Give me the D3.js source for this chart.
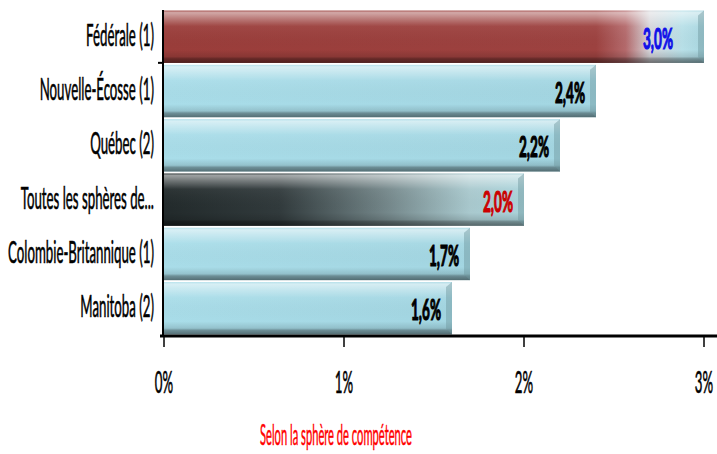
<!DOCTYPE html>
<html>
<head>
<meta charset="utf-8">
<script src="https://cdn.jsdelivr.net/npm/d3@7"></script>
<style>
  body { margin: 0; background: #fff; }
  text { font-family: Lato, "Liberation Sans", sans-serif; }
</style>
</head>
<body>
<div id="chart"></div>
<script>
const categories = ["Fédérale (1)", "Nouvelle-Écosse (1)", "Québec (2)", "Toutes les sphères de...", "Colombie-Britannique (1)", "Manitoba (2)"]
const values = [3.0, 2.4, 2.2, 2.0, 1.7, 1.6]
const valueLabels = ["3,0%", "2,4%", "2,2%", "2,0%", "1,7%", "1,6%"]
const labelColors = ["#1010e8", "#000", "#000", "#cc0000", "#000", "#000"]
const barFills = ["federal", "blue", "blue", "all", "blue", "blue"]
const xTicks = [0, 1, 2, 3]
const xTitle = "Selon la sphère de compétence"

const width = 717
const height = 454

const x = d3.scaleLinear().domain([0, 3]).range([164, 704])
const y = d3.scaleBand().domain(categories).range([10, 335]).paddingInner(0.035).paddingOuter(0.01)

const svg = d3.select("#chart").append("svg")
    .attr("width", width)
    .attr("height", height)

// the chart font is a tall condensed face: squeeze a normal one to the same width
function squeeze(sample, size, weight, target){
    const t = svg.append("text").attr("font-size", size).attr("font-weight", weight).text(sample)
    const w = t.node().getComputedTextLength()
    t.remove()
    return target / w
}
const sxCat = squeeze("Colombie-Britannique (1)", 30, "normal", 146)
const sxVal = squeeze("2,4%", 28, "bold", 30)
const sxTitle = squeeze(xTitle, 28, "normal", 152)

const defs = svg.append("defs")

function hGrad(id, stops){
    const g = defs.append("linearGradient").attr("id", id)
        .attr("x1", 0).attr("x2", 1).attr("y1", 0).attr("y2", 0)
    stops.forEach(s => g.append("stop").attr("offset", s[0]).attr("stop-color", s[1]))
}
hGrad("blue", [[0, "#a9dde9"], [1, "#a3d6e2"]])
hGrad("federal", [[0, "#9a3d3a"], [0.8, "#9d4240"], [0.855, "#b46a6c"], [0.9, "#d6d6da"], [0.96, "#b8e0e8"], [1, "#a8d6e0"]])
hGrad("all", [[0, "#222a2b"], [0.32, "#313a3c"], [0.62, "#74878a"], [0.85, "#a9c9ce"], [1, "#aad3da"]])

// vertical shading overlay: light top edge, dark bottom edge
const shade = defs.append("linearGradient").attr("id", "shade")
    .attr("x1", 0).attr("x2", 0).attr("y1", 0).attr("y2", 1)
;[[0, "#fff", 0.15], [0.04, "#fff", 0.55], [0.14, "#fff", 0.35], [0.3, "#fff", 0.05],
  [0.75, "#000", 0.0], [0.88, "#000", 0.12], [0.92, "#000", 0.35], [1, "#000", 0.5]]
    .forEach(s => shade.append("stop").attr("offset", s[0]).attr("stop-color", s[1]).attr("stop-opacity", s[2]))

const data = categories.map((c, i) => ({cat: c, v: values[i], label: valueLabels[i], color: labelColors[i], fill: barFills[i]}))

const bars = svg.append("g").selectAll("g").data(data).join("g")

bars.append("rect")
    .attr("x", x(0))
    .attr("y", d => y(d.cat))
    .attr("width", d => x(d.v) - x(0))
    .attr("height", y.bandwidth())
    .attr("fill", d => `url(#${d.fill})`)

bars.append("rect")
    .attr("x", x(0))
    .attr("y", d => y(d.cat))
    .attr("width", d => x(d.v) - x(0))
    .attr("height", y.bandwidth())
    .attr("fill", "url(#shade)")

// bevelled right end
bars.append("path")
    .attr("d", d => {
        const x1 = x(d.v), y0 = y(d.cat), h = y.bandwidth()
        return `M${x1-6},${y0+5} L${x1},${y0} L${x1},${y0+h} L${x1-6},${y0+h-6} Z`
    })
    .attr("fill", "#6f969e")
    .attr("opacity", 0.45)

// value labels
bars.append("text")
    .attr("transform", (d, i) => `translate(${x(d.v) - (i == 0 ? 31 : 11)}, ${y(d.cat) + y.bandwidth()/2 + 12}) scale(${sxVal},1)`)
    .attr("text-anchor", "end")
    .attr("font-size", 28)
    .attr("font-weight", "bold")
    .attr("fill", d => d.color)
    .attr("stroke", d => d.color).attr("stroke-width", 1.2)
    .text(d => d.label)

// category labels
svg.append("g").selectAll("text").data(categories).join("text")
    .attr("transform", d => `translate(154, ${y(d) + y.bandwidth()/2 + 9}) scale(${sxCat},1)`)
    .attr("text-anchor", "end")
    .attr("font-size", 30)
    .attr("fill", "#000")
    .attr("stroke", "#000").attr("stroke-width", 0.6)
    .text(d => d)

// y axis line and one visible tick
svg.append("line")
    .attr("x1", x(0) - 1).attr("x2", x(0) - 1)
    .attr("y1", y.range()[0]).attr("y2", y.range()[1])
    .attr("stroke", "#000").attr("stroke-width", 2)
svg.append("line")
    .attr("x1", x(0) - 6).attr("x2", x(0))
    .attr("y1", y(categories[1]) - 2).attr("y2", y(categories[1]) - 2)
    .attr("stroke", "#000").attr("stroke-width", 2)

// x axis
const axisY = y.range()[1]
svg.append("line")
    .attr("x1", x(0) - 4).attr("x2", width)
    .attr("y1", axisY + 1).attr("y2", axisY + 1)
    .attr("stroke", "#000").attr("stroke-width", 3)

svg.append("g").selectAll("line").data(xTicks).join("line")
    .attr("x1", d => x(d)).attr("x2", d => x(d))
    .attr("y1", axisY + 1).attr("y2", axisY + 12)
    .attr("stroke", "#000").attr("stroke-width", 1.5)

svg.append("g").selectAll("text").data(xTicks).join("text")
    .attr("transform", d => `translate(${x(d)}, 393) scale(${sxCat},1)`)
    .attr("text-anchor", "middle")
    .attr("font-size", 30)
    .attr("fill", "#000")
    .attr("stroke", "#000").attr("stroke-width", 0.6)
    .text(d => d + "%")

svg.append("text")
    .attr("transform", `translate(${(x(0) + x(3)) / 2 - 98}, 445) scale(${sxTitle},1)`)
    .attr("text-anchor", "middle")
    .attr("font-size", 28)
    .attr("fill", "#ff0000")
    .attr("stroke", "#ff0000").attr("stroke-width", 0.5)
    .text(xTitle)
</script>
</body>
</html>
